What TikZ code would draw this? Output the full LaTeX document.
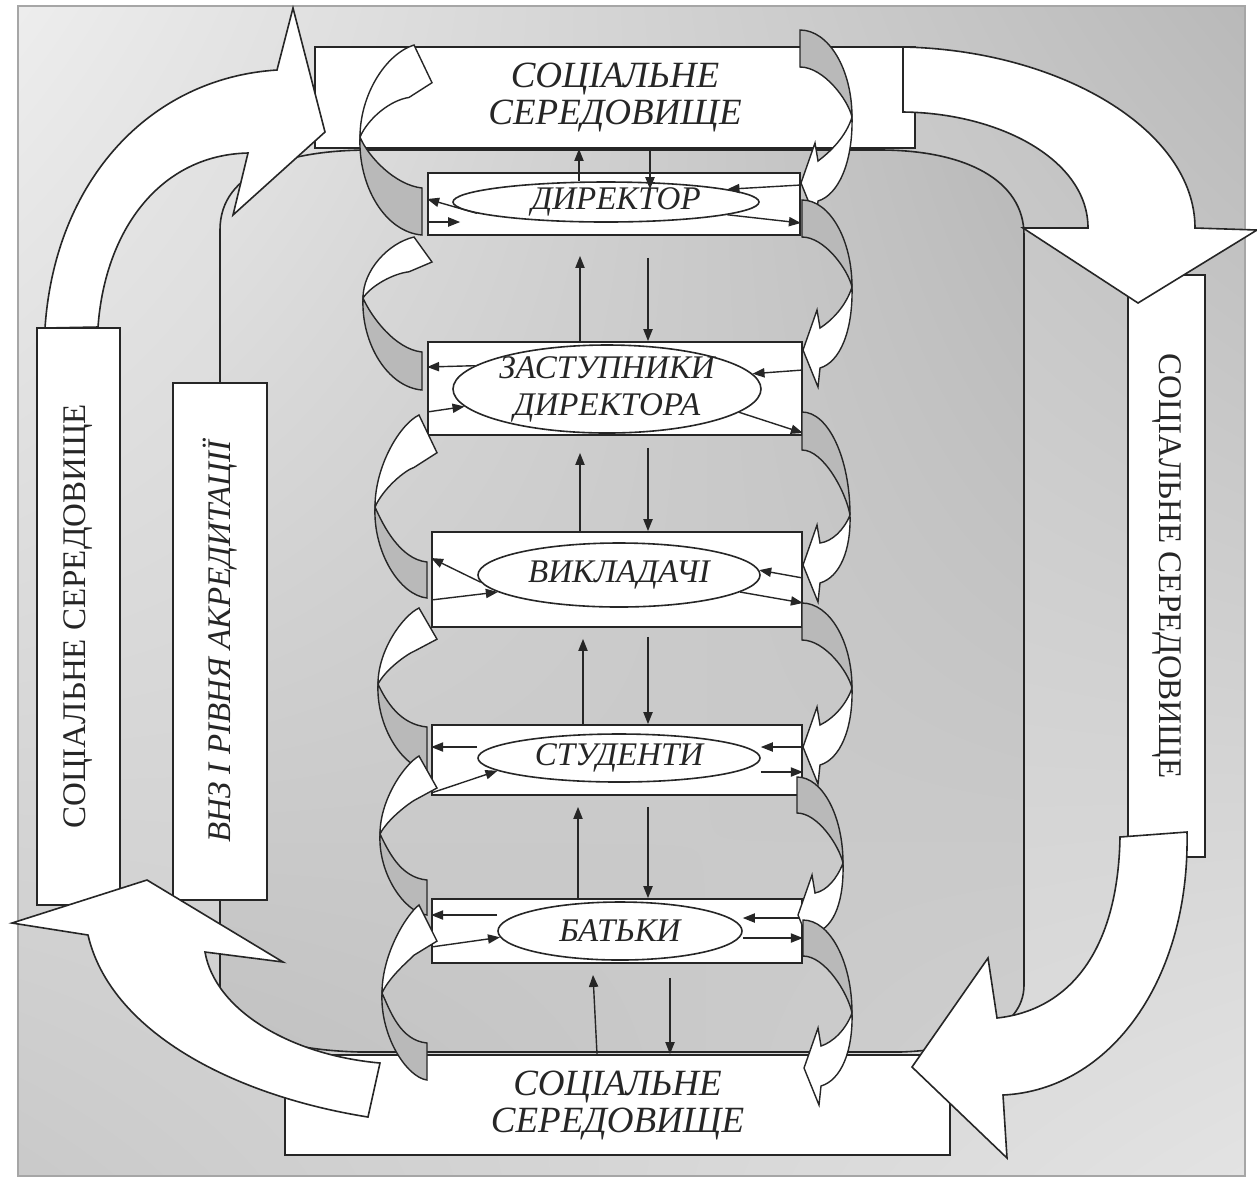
\documentclass[tikz,border=0pt]{standalone}
\usepackage{fontspec}
\setmainfont{Liberation Serif}
\usetikzlibrary{arrows.meta,calc,shapes.geometric,shadings}

\tikzset{
  boxw/.style={draw=black!85, fill=white, line width=0.9pt, inner sep=0pt},
  bigarrow/.style={draw=black!85, fill=white, line width=0.8pt, line join=miter},
  curlw/.style={draw=black!85, fill=white, line width=0.7pt, line join=miter},
  curlg/.style={draw=black!85, fill=gray!55, line width=0.7pt},
  lab/.style={font=\fontsize{18.5}{18.5}\selectfont\itshape, text=black!85, align=center},
  vlab/.style={font=\fontsize{16.5}{19}\selectfont, text=black!85},
  rolebox/.style={draw=black!85, fill=white, line width=0.9pt, inner sep=0pt},
  roleell/.style={ellipse, draw=black!85, fill=white, line width=0.8pt, inner sep=-4pt,
    font=\fontsize{16.5}{18.5}\selectfont\itshape, text=black!85, align=center},
  arr/.style={line width=0.7pt, draw=black!85, -{Triangle[length=6pt,width=4.6pt]}},
}

% left curly arrow: #1 yT, #2 xL, #3 yE, #4 tail top, #5 tail bottom, #6 tail x
\newcommand\LCurl[6]{%
 \filldraw[curlg] (#2,#3) .. controls ({#2-2},{#3+0.5*(#5-#3)}) and ({#2+25},{#5-0.03*(#5-#3)}) .. (#6,#5) -- (#6,#4) .. controls ({#6-27},{#4-0.03*(#5-#3)}) and ({#2+8},{#3+0.2*(#5-#3)}) .. (#2,#3) -- cycle;
 \filldraw[curlw] (#2,#3) .. controls (#2,{#3-0.45*(#3-#1)}) and ({#2+25},{#1+0.1*(#3-#1)}) .. ({#6-8},#1) -- ({#6+10},{#1+0.41*(#3-#1)}) -- ({#6-13},{#1+0.57*(#3-#1)}) .. controls ({#2+30},{#1+0.6*(#3-#1)}) and ({#2+8},{#3-0.2*(#3-#1)}) .. (#2,#3) -- cycle;
}
% right curly arrow: #1 yT, #2 xR, #3 yE, #4 tail top, #5 tail bottom, #6 tail x
\newcommand\RCurl[6]{%
 \filldraw[curlg] (#6,#4) .. controls ({#6+0.55*(#2-#6)},#4) and (#2,{#4+0.45*(#3-#4)}) .. (#2,#3) .. controls ({#2-4},{#3-0.35*(#3-#5)}) and ({#6+0.45*(#2-#6)},#5) .. (#6,#5) -- cycle;
 \filldraw[curlw] (#2,#3) .. controls ({#2-6},{#3+0.3*(#1-#3)}) and ({#6+30},{#1-0.47*(#1-#3)}) .. ({#6+18},{#1-22}) -- ({#6+15},{#1-40}) -- ({#6+1},#1) -- ({#6+16},{#1+37}) -- ({#6+18},{#1+18}) .. controls ({#6+38},{#1+12}) and ({#2+1},{#1-0.3*(#1-#3)}) .. (#2,#3) -- cycle;
}

\begin{document}
\begin{tikzpicture}[x=0.5pt,y=-0.5pt]
\useasboundingbox (0,0) rectangle (1257,1180);

% background
\shade[upper left=gray!14, upper right=gray!55, lower left=gray!42, lower right=gray!22] (18,6) rectangle (1245,1176);
\draw[gray!70, line width=0.6pt] (18,6) rectangle (1245,1176);

% institution outline
\shadedraw[upper left=gray!22, upper right=gray!55, lower left=gray!48, lower right=gray!38, draw=black!85, line width=0.8pt]
 (220,985) -- (220,230) .. controls (220,170) and (290,150) .. (370,150) -- (880,150)
 .. controls (965,150) and (1024,180) .. (1024,235) -- (1024,985)
 .. controls (1024,1030) and (965,1050) .. (900,1052) -- (360,1052)
 .. controls (280,1050) and (220,1030) .. (220,985) -- cycle;

% social environment boxes
\node[boxw, lab, minimum width=300pt, minimum height=50.5pt] (top) at (615,97.5) {СОЦІАЛЬНЕ\\СЕРЕДОВИЩЕ};
\node[boxw, lab, minimum width=332.5pt, minimum height=50pt] (bot) at (617.5,1105) {СОЦІАЛЬНЕ\\СЕРЕДОВИЩЕ};
\node[boxw, vlab, rotate=90, minimum width=288.5pt, minimum height=41.5pt] (lbox) at (78.5,616.5) {СОЦІАЛЬНЕ СЕРЕДОВИЩЕ};
\node[boxw, vlab, rotate=-90, minimum width=291pt, minimum height=38.5pt] (rbox) at (1166.5,566) {СОЦІАЛЬНЕ СЕРЕДОВИЩЕ};
\node[boxw, vlab, font=\fontsize{16.5}{19}\selectfont\itshape, rotate=90, minimum width=258.5pt, minimum height=47pt] (vnz) at (220,641.5) {ВНЗ І РІВНЯ АКРЕДИТАЦІЇ};

% big cycle arrows
\filldraw[bigarrow] (45,328) .. controls (55,180) and (150,78) .. (277,70) -- (293,8) -- (325,132) -- (233,215) -- (248,153) .. controls (160,155) and (105,230) .. (98,327) -- cycle;
\filldraw[bigarrow] (903,47) .. controls (1060,50) and (1195,130) .. (1195,228) -- (1257,230) -- (1138,303) -- (1023,228) -- (1088,228) .. controls (1088,160) and (1000,113) .. (903,112) -- cycle;
\filldraw[bigarrow] (1187,832) .. controls (1190,980) and (1110,1090) .. (1003,1095) -- (1007,1158) -- (912,1067) -- (988,958) -- (997,1018) .. controls (1070,1010) and (1118,950) .. (1120,837) -- cycle;
\filldraw[bigarrow] (368,1117) .. controls (230,1095) and (110,1030) .. (88,935) -- (12,923) -- (147,880) -- (283,962) -- (205,952) .. controls (215,1010) and (290,1055) .. (380,1063) -- cycle;

% role boxes
\node[rolebox, minimum width=186pt, minimum height=31pt] (b1) at (614,204) {};
\node[rolebox, minimum width=187pt, minimum height=46.5pt] (b2) at (615,388.5) {};
\node[rolebox, minimum width=185pt, minimum height=47.5pt] (b3) at (617,579.5) {};
\node[rolebox, minimum width=185pt, minimum height=35pt] (b4) at (617,760) {};
\node[rolebox, minimum width=185pt, minimum height=32pt] (b5) at (617,931) {};

\node[roleell, minimum width=153pt, minimum height=20pt] (e1) at (606,202) {\hspace*{10pt}ДИРЕКТОР};
\node[roleell, minimum width=154pt, minimum height=44pt] (e2) at (607,389) {ЗАСТУПНИКИ\\ДИРЕКТОРА};
\node[roleell, minimum width=141pt, minimum height=32pt] (e3) at (619,575) {ВИКЛАДАЧІ};
\node[roleell, minimum width=141pt, minimum height=24pt] (e4) at (619,758) {СТУДЕНТИ};
\node[roleell, minimum width=122pt, minimum height=29pt] (e5) at (620,931) {БАТЬКИ};

% vertical arrows
\draw[arr] (e1.north -| 579,0) -- (top.south -| 579,0);
\draw[arr] (top.south -| 650,0) -- ([yshift=-4pt]e1.north -| 650,0);
\draw[arr] (b2.north -| 580,0) -- ([yshift=-10pt]b1.south -| 580,0);
\draw[arr] ([yshift=-11pt]b1.south -| 648,0) -- (b2.north -| 648,0);
\draw[arr] (b3.north -| 580,0) -- ([yshift=-8.5pt]b2.south -| 580,0);
\draw[arr] ([yshift=-6pt]b2.south -| 648,0) -- (b3.north -| 648,0);
\draw[arr] (b4.north -| 583,0) -- ([yshift=-5.5pt]b3.south -| 583,0);
\draw[arr] ([yshift=-4.5pt]b3.south -| 648,0) -- (b4.north -| 648,0);
\draw[arr] (b5.north -| 578,0) -- ([yshift=-5.5pt]b4.south -| 578,0);
\draw[arr] ([yshift=-5.5pt]b4.south -| 648,0) -- (b5.north -| 648,0);
\draw[arr] (bot.north -| 597,0) -- ([yshift=-5.5pt]b5.south -| 593,0);
\draw[arr] ([yshift=-7pt]b5.south -| 670,0) -- (bot.north -| 670,0);

% horizontal arrows
\draw[arr] (e1.185) -- (b1.west |- 0,199);
\draw[arr] (b1.west |- 0,222) -- ([xshift=4pt]e1.west |- 0,222);
\draw[arr] (b1.east |- 0,185) -- (e1.6);
\draw[arr] (e1.-6) -- (b1.east |- 0,223);
\draw[arr] (e2.170) -- (b2.west |- 0,367);
\draw[arr] (b2.west |- 0,412) -- (e2.187);
\draw[arr] (b2.east |- 0,370) -- (e2.6);
\draw[arr] (e2.-10) -- (b2.east |- 0,433);
\draw[arr] (e3.183) -- (b3.west |- 0,558);
\draw[arr] (b3.west |- 0,600) -- (e3.188);
\draw[arr] (b3.east |- 0,578) -- (e3.2);
\draw[arr] (e3.-8) -- (b3.east |- 0,603);
\draw[arr] (e4.west |- 0,747) -- (b4.west |- 0,747);
\draw[arr] (b4.west |- 0,793) -- (e4.186);
\draw[arr] (b4.east |- 0,747) -- (e4.east |- 0,747);
\draw[arr] (e4.east |- 0,772) -- (b4.east |- 0,772);
\draw[arr] (e5.west |- 0,915) -- (b5.west |- 0,915);
\draw[arr] (b5.west |- 0,947) -- (e5.183);
\draw[arr] (b5.east |- 0,918) -- (e5.east |- 0,918);
\draw[arr] (e5.east |- 0,938) -- (b5.east |- 0,938);

% curly arrows, left chain (upward)
\LCurl{45}{360}{137}{188}{235}{422}
\LCurl{237}{363}{298}{352}{390}{422}
\LCurl{415}{375}{507}{562}{598}{427}
\LCurl{608}{378}{684}{727}{770}{427}
\LCurl{756}{380}{834}{880}{915}{427}
\LCurl{905}{382}{993}{1043}{1080}{427}

% curly arrows, right chain (downward)
\RCurl{183}{852}{117}{30}{67}{800}
\RCurl{350}{852}{287}{200}{237}{802}
\RCurl{565}{850}{515}{412}{450}{802}
\RCurl{747}{852}{688}{603}{640}{802}
\RCurl{915}{843}{863}{777}{813}{797}
\RCurl{1068}{852}{1013}{920}{956}{803}
\end{tikzpicture}
\end{document}
